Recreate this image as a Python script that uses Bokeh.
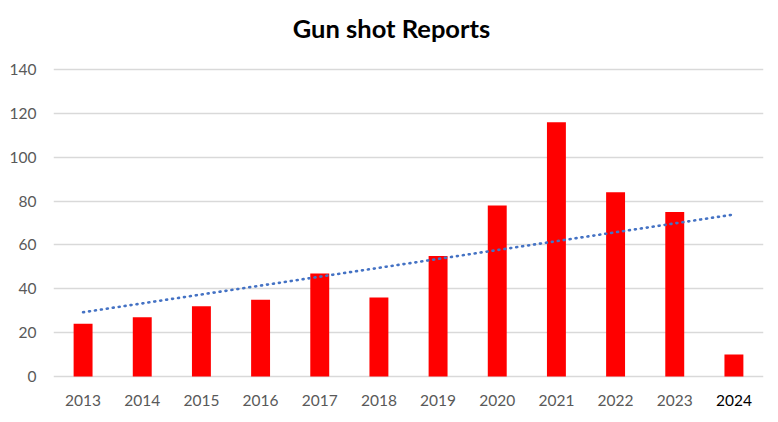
import numpy as np
from bokeh.plotting import figure
from bokeh.models import Range1d, FixedTicker, ColumnDataSource
from bokeh.core.properties import value
from bokeh.embed import file_html
from bokeh.resources import INLINE

title = "Gun shot Reports"
years = ["2013", "2014", "2015", "2016", "2017", "2018", "2019", "2020", "2021", "2022", "2023", "2024"]
reports = [24, 27, 32, 35, 47, 36, 55, 78, 116, 84, 75, 10]
y_ticks = [0, 20, 40, 60, 80, 100, 120, 140]

idx = list(range(len(years)))
# linear trendline (least squares fit of the data, as the spreadsheet does)
slope, intercept = np.polyfit(idx, reports, 1)
trend = [slope * i + intercept for i in idx]

W, H = 778, 422
# the frame covers the full height so the title and category labels are drawn as text
p = figure(width=W, height=H, output_backend="svg", toolbar_location=None,
           x_range=Range1d(-0.5, len(years) - 0.5), y_range=Range1d(-20.98, 171.47),
           min_border_left=53, min_border_right=15, min_border_top=0, min_border_bottom=0)
p.outline_line_color = None
p.background_fill_color = "white"
p.border_fill_color = "white"

src = ColumnDataSource(dict(x=idx, top=reports))
p.vbar(x="x", top="top", width=0.32, source=src, fill_color="#FF0000", line_color=None)
p.line(idx, trend, line_color="#4472C4", line_width=2.6, line_dash="1 5", line_cap="round")

p.xgrid.grid_line_color = None
p.ygrid.grid_line_color = "#D9D9D9"
p.ygrid.grid_line_width = 1.3
p.ygrid.ticker = FixedTicker(ticks=y_ticks)

p.yaxis.ticker = FixedTicker(ticks=y_ticks)
p.yaxis.axis_line_color = None
p.yaxis.major_tick_line_color = None
p.yaxis.minor_tick_line_color = None
p.yaxis.major_label_text_font = "Lato"
p.yaxis.major_label_text_font_size = "15.5px"
p.yaxis.major_label_text_color = "#595959"
p.yaxis.major_label_standoff = 11

p.xaxis.visible = False

# category labels (the last year is shown in black, as in the original)
lab = ColumnDataSource(dict(x=idx, y=[0] * len(years), text=years,
                            color=["black" if y == years[-1] else "#595959" for y in years]))
p.text(x="x", y="y", text="text", source=lab, text_color="color",
       text_font=value("Lato"), text_font_size="15.5px", text_align="center",
       text_baseline="middle", y_offset=24)

# chart title, centred over the categories above the top grid line
p.text(x=[(len(years) - 1) / 2], y=[max(y_ticks)], text=[title], text_color="black",
       text_font=value("Lato"), text_font_size="25.5px", text_font_style="bold",
       text_align="center", text_baseline="middle", x_offset=-17, y_offset=-42)

open("out.html", "w").write(file_html(p, INLINE))
